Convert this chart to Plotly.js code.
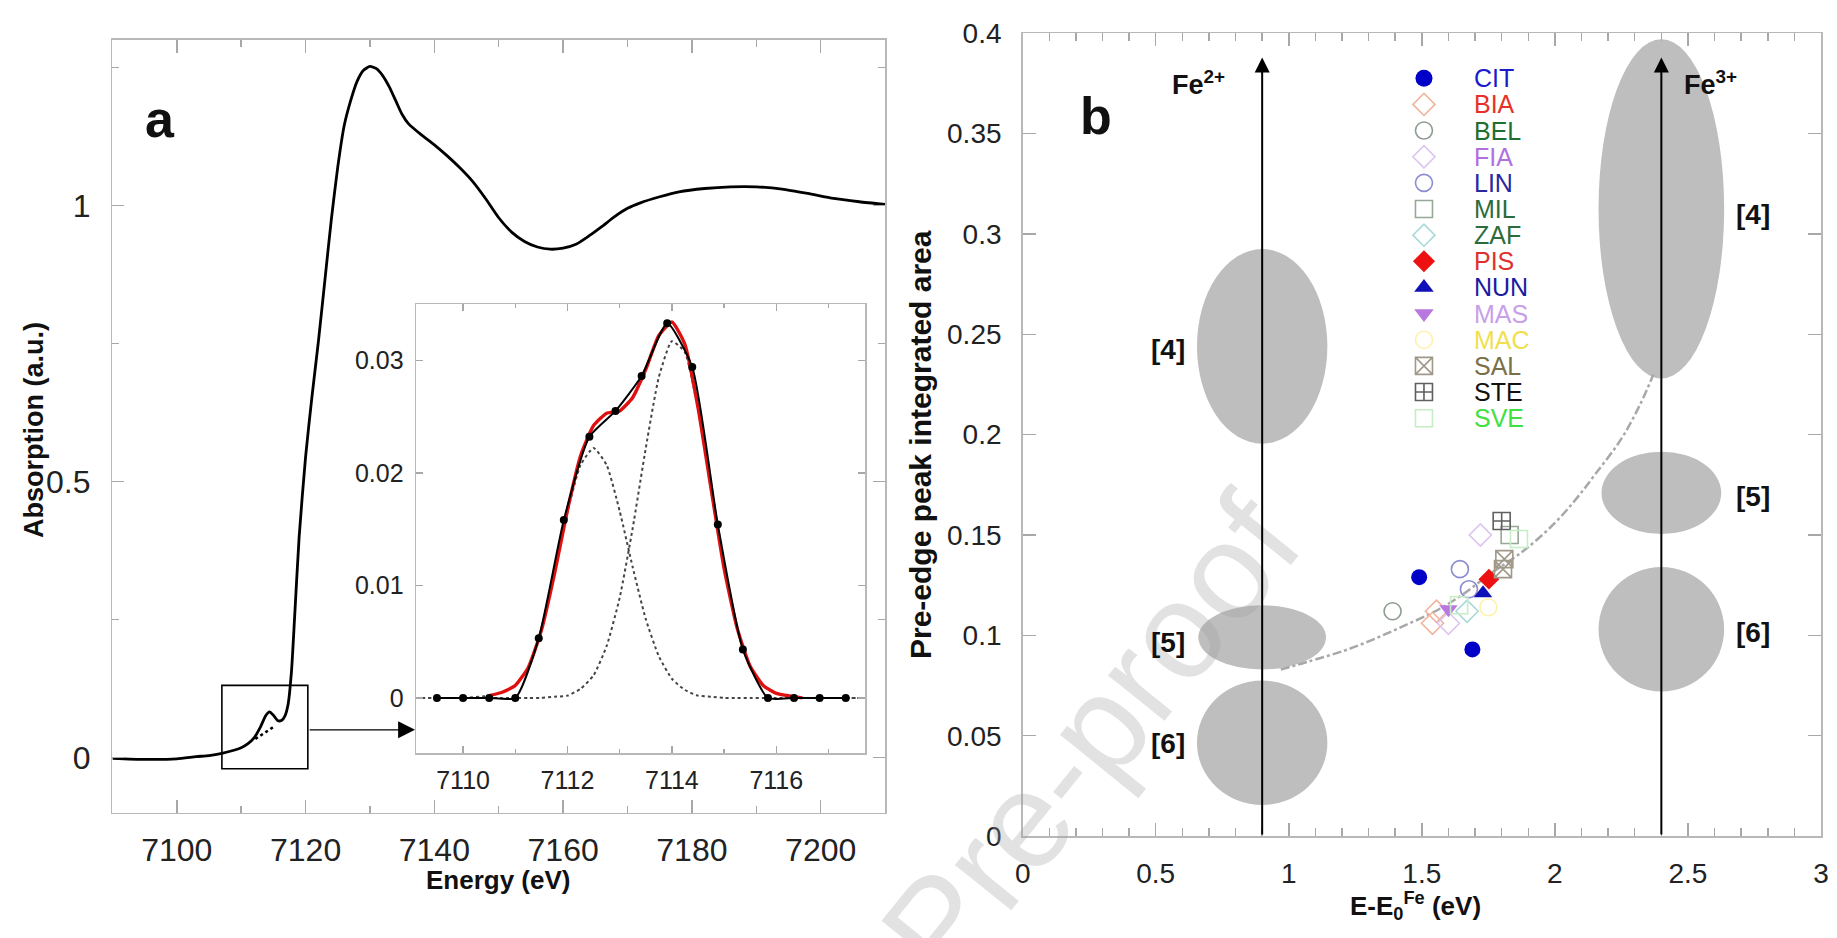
<!DOCTYPE html>
<html>
<head>
<meta charset="utf-8">
<script src="https://cdn.plot.ly/plotly-3.0.1.min.js"></script>
<style>html,body{margin:0;padding:0;background:#fff;}#chart{width:1837px;height:938px;}</style>
</head>
<body>
<div id="chart"></div>
<script>
// ---------- Panel a : XANES spectrum ----------
const energyA = [7090, 7095, 7100, 7103, 7105, 7107, 7109, 7110, 7111, 7112, 7113, 7113.8, 7114.4, 7115, 7115.7, 7116.3, 7116.8, 7117.3, 7117.8, 7118.3, 7119, 7120, 7121, 7122, 7123, 7124, 7125, 7126, 7127, 7128, 7129, 7130, 7131, 7132, 7133, 7134, 7135, 7136, 7138, 7140, 7142, 7144, 7146, 7148, 7150, 7152, 7154, 7156, 7158, 7160, 7162, 7164, 7166, 7168, 7170, 7172, 7175, 7178, 7182, 7186, 7190, 7194, 7198, 7202, 7206, 7210];
const absorbA = [-0.001, -0.003, -0.002, 0.002, 0.004, 0.008, 0.014, 0.018, 0.025, 0.036, 0.056, 0.076, 0.083, 0.077, 0.067, 0.068, 0.076, 0.098, 0.155, 0.255, 0.40, 0.545, 0.655, 0.755, 0.865, 0.975, 1.07, 1.145, 1.19, 1.225, 1.245, 1.252, 1.248, 1.235, 1.215, 1.19, 1.165, 1.148, 1.128, 1.11, 1.09, 1.068, 1.043, 1.012, 0.978, 0.952, 0.935, 0.925, 0.921, 0.923, 0.93, 0.945, 0.962, 0.98, 0.995, 1.005, 1.016, 1.025, 1.031, 1.034, 1.034, 1.03, 1.022, 1.013, 1.007, 1.002];
// pre-edge background (dotted) under the pre-edge
const baseE = [7112.2, 7113.7, 7115.3];
const baseA = [0.034, 0.046, 0.058];
// zoom box and pointer
const boxE = [7107.0, 7120.35];
const boxA = [-0.02, 0.131];
const pointerE = [7120.4, 7137.0];
const pointerA = 0.0506;

// ---------- Inset : pre-edge fit ----------
const insetE = [7109.5, 7110.0, 7110.5, 7111.0, 7111.45, 7111.93, 7112.42, 7112.92, 7113.42, 7113.91, 7114.39, 7114.88, 7115.36, 7115.84, 7116.34, 7116.83, 7117.33];
const insetA = [0, 0, 0, 0, 0.0053, 0.0158, 0.0232, 0.0255, 0.0286, 0.0333, 0.0294, 0.0154, 0.0043, 0, 0, 0, 0];
const compE = [7109.1, 7110.0, 7110.5, 7110.75, 7111.0, 7111.25, 7111.5, 7111.75, 7112.0, 7112.25, 7112.5, 7112.75, 7113.0, 7113.25, 7113.5, 7113.75, 7114.0, 7114.25, 7114.5, 7114.75, 7115.0, 7115.25, 7115.5, 7115.75, 7116.0, 7116.5, 7117.0, 7117.7];
const comp1 = [0, 0, 0.0002, 0.0005, 0.0011, 0.0027, 0.0060, 0.0110, 0.0165, 0.0207, 0.0222, 0.0207, 0.0166, 0.0116, 0.0070, 0.0037, 0.0017, 0.0007, 0.0002, 0.0001, 0, 0, 0, 0, 0, 0, 0, 0];
const comp2 = [0, 0, 0, 0, 0, 0, 0, 0.0001, 0.0002, 0.0008, 0.0020, 0.0046, 0.0089, 0.0151, 0.0222, 0.0285, 0.0317, 0.0307, 0.0256, 0.0185, 0.0115, 0.0062, 0.0028, 0.0011, 0.0004, 0, 0, 0];
const fitE = [7110.5, 7110.75, 7111.0, 7111.25, 7111.5, 7111.75, 7112.0, 7112.25, 7112.5, 7112.75, 7113.0, 7113.25, 7113.5, 7113.75, 7114.0, 7114.25, 7114.5, 7114.75, 7115.0, 7115.25, 7115.5, 7115.75, 7116.0, 7116.5];
const fitA = [0.0002, 0.0005, 0.0011, 0.0027, 0.0060, 0.0110, 0.0167, 0.0215, 0.0242, 0.0253, 0.0255, 0.0267, 0.0292, 0.0322, 0.0334, 0.0314, 0.0258, 0.0186, 0.0115, 0.0062, 0.0028, 0.0011, 0.0004, 0];

// ---------- Panel b : pre-edge centroid vs area ----------
const samples = ['CIT','BIA','BEL','FIA','LIN','MIL','ZAF','PIS','NUN','MAS','MAC','SAL','STE','SVE'];
const sampleX = [[1.49, 1.69], [1.54, 1.555], [1.39], [1.60, 1.72], [1.643, 1.677], [1.83], [1.67], [1.752], [1.73], [1.60], [1.75], [1.805, 1.81], [1.80], [1.64, 1.865]];
const sampleY = [[0.129, 0.093], [0.106, 0.112], [0.112], [0.106, 0.150], [0.133, 0.123], [0.150], [0.112], [0.128], [0.121], [0.113], [0.114], [0.133, 0.138], [0.157], [0.115, 0.148]];
const sampleSymbol = ['circle','diamond-open','circle-open','diamond-open','circle-open','square-open','diamond-open','diamond','triangle-up','triangle-down','circle-open','square-x-open','square-cross-open','square-open'];
const sampleColor = ['#0000c8','#f0b49c','#8f9c8f','#dcc4f0','#8c8cd0','#98a898','#a8d8d8','#ee1111','#1010b8','#b878e0','#fff0a8','#a09888','#606060','#c4eec4'];
const labelColor = ['#1a1acc','#e8302a','#1e6e30','#b070e0','#2828a0','#2c6c3c','#2c6c3c','#e03030','#1a1aa0','#c8a0e8','#f0e050','#7a7048','#111111','#40e040'];
// trend line (dotted)
const trendX = [0.97, 1.05, 1.1, 1.2, 1.3, 1.42, 1.55, 1.65, 1.75, 1.85, 1.9, 2.0, 2.08, 2.15, 2.25, 2.32, 2.37];
const trendY = [0.083, 0.086, 0.088, 0.092, 0.097, 0.104, 0.112, 0.12, 0.13, 0.139, 0.144, 0.156, 0.168, 0.18, 0.198, 0.215, 0.23];
// coordination regions
const regionCx = [0.9, 0.9, 0.9, 2.4, 2.4, 2.4];
const regionCy = [0.244, 0.099, 0.0465, 0.3125, 0.171, 0.103];
const regionRx = [0.245, 0.24, 0.245, 0.236, 0.225, 0.236];
const regionRy = [0.0485, 0.016, 0.031, 0.0845, 0.0205, 0.031];
const regionLabel = ['[4]','[5]','[6]','[4]','[5]','[6]'];
const regionLabelX = [0.547, 0.547, 0.547, 2.746, 2.746, 2.746];
const regionLabelY = [0.2425, 0.0964, 0.046, 0.3096, 0.169, 0.1015];
const ironX = [0.9, 2.4];
const ironLabel = ['Fe<sup>2+</sup>', 'Fe<sup>3+</sup>'];
const ironLabelX = [0.66, 2.585];

// ---------- layout constants ----------
const FONT = 'Liberation Sans, Arial, Helvetica, sans-serif';
const NARROW = 'Liberation Sans Narrow, Arial Narrow, Liberation Sans, sans-serif';
const legX = 1.508, legTextX = 1.687, legTop = 0.3776, legStep = 0.01303;
const arrowTop = 0.388;

const traces = [];
// panel a
traces.push({x: energyA, y: absorbA, xaxis: 'x', yaxis: 'y', mode: 'lines',
  line: {color: '#000', width: 2.8, shape: 'spline', smoothing: 0.6}, hoverinfo: 'skip'});
traces.push({x: baseE, y: baseA, xaxis: 'x', yaxis: 'y', mode: 'lines',
  line: {color: '#000', width: 2.5, dash: 'dot'}, hoverinfo: 'skip'});
// inset
traces.push({x: compE, y: comp1, xaxis: 'x3', yaxis: 'y3', mode: 'lines',
  line: {color: '#444', width: 2, dash: 'dot', shape: 'spline', smoothing: 0.5}});
traces.push({x: compE, y: comp2, xaxis: 'x3', yaxis: 'y3', mode: 'lines',
  line: {color: '#444', width: 2, dash: 'dot', shape: 'spline', smoothing: 0.5}});
traces.push({x: fitE, y: fitA, xaxis: 'x3', yaxis: 'y3', mode: 'lines',
  line: {color: '#e01010', width: 3.4, shape: 'spline', smoothing: 0.5}});
traces.push({x: insetE, y: insetA, xaxis: 'x3', yaxis: 'y3', mode: 'lines+markers',
  line: {color: '#000', width: 2, shape: 'spline', smoothing: 0.55},
  marker: {color: '#000', size: 8}});
// panel b trend
traces.push({x: trendX, y: trendY, xaxis: 'x2', yaxis: 'y2', mode: 'lines',
  line: {color: '#a8a8a8', width: 2.5, dash: 'dashdot', shape: 'spline'}});
// panel b samples
samples.forEach((s, i) => {
  const open = sampleSymbol[i].indexOf('open') >= 0;
  traces.push({x: sampleX[i], y: sampleY[i], xaxis: 'x2', yaxis: 'y2', mode: 'markers', name: s,
    marker: {symbol: sampleSymbol[i], size: open ? 17 : 16, color: sampleColor[i],
      line: {color: sampleColor[i], width: open ? 1.6 : 0}}});
});
// legend swatches (positions computed from layout constants)
traces.push({x: samples.map(() => legX), y: samples.map((s, i) => legTop - i * legStep),
  xaxis: 'x2', yaxis: 'y2', mode: 'markers',
  marker: {symbol: sampleSymbol, size: 17, color: sampleColor,
    line: {color: sampleColor, width: sampleSymbol.map(t => t.indexOf('open') >= 0 ? 1.6 : 0)}}});

const axCommon = {showline: true, mirror: 'ticks', linecolor: '#b8b8b8', linewidth: 1.5,
  ticks: 'inside', tickcolor: '#a8a8a8', tickwidth: 1.5, showgrid: false, zeroline: false,
  tickfont: {family: FONT, color: '#222'}};

const shapes = [];
regionCx.forEach((cx, i) => {
  shapes.push({type: 'circle', xref: 'x2', yref: 'y2', layer: 'below',
    x0: cx - regionRx[i], x1: cx + regionRx[i], y0: regionCy[i] - regionRy[i], y1: regionCy[i] + regionRy[i],
    fillcolor: '#bebebe', line: {width: 0}});
});
shapes.push({type: 'rect', xref: 'x', yref: 'y', x0: boxE[0], x1: boxE[1], y0: boxA[0], y1: boxA[1],
  line: {color: '#000', width: 1.6}});

const C = {xanchor: 'center', yanchor: 'middle', showarrow: false};
const annotations = [];
// journal watermark (drawn first so the rest sits on top)
annotations.push(Object.assign({}, C, {xref: 'paper', yref: 'paper', x: 0.5106, y: 0.0128, text: 'Journal Pre-proof',
  textangle: -51, font: {family: FONT, size: 137, color: 'rgba(160,160,160,0.3)'}}));
annotations.push(Object.assign({}, C, {xref: 'paper', yref: 'paper', x: 0.2711, y: 0.0618, text: '<b>Energy (eV)</b>',
  font: {family: FONT, size: 26, color: '#111'}}));
annotations.push(Object.assign({}, C, {xref: 'paper', yref: 'paper', x: 0.0185, y: 0.5416, text: '<b>Absorption (a.u.)</b>',
  textangle: -90, font: {family: FONT, size: 27, color: '#111'}}));
annotations.push(Object.assign({}, C, {xref: 'paper', yref: 'paper', x: 0.5014, y: 0.5256, text: '<b>Pre-edge peak integrated area</b>',
  textangle: -90, font: {family: FONT, size: 30, color: '#111'}}));
annotations.push(Object.assign({}, C, {xref: 'paper', yref: 'paper', x: 0.7708, y: 0.034, text: '<b>E-E<sub>0</sub><sup>Fe</sup> (eV)</b>',
  font: {family: FONT, size: 26, color: '#111'}}));
annotations.push(Object.assign({}, C, {xref: 'x', yref: 'y', x: 7097.4, y: 1.156, text: '<b>a</b>',
  font: {family: NARROW, size: 52, color: '#111'}}));
annotations.push(Object.assign({}, C, {xref: 'x2', yref: 'y2', x: 0.275, y: 0.359, text: '<b>b</b>',
  font: {family: NARROW, size: 52, color: '#111'}}));
// pointer arrow
annotations.push({xref: 'x', yref: 'y', axref: 'x', ayref: 'y', x: pointerE[1], y: pointerA,
  ax: pointerE[0], ay: pointerA, text: '', showarrow: true, arrowhead: 2, arrowsize: 2.6,
  arrowwidth: 1.3, arrowcolor: '#000'});
// Fe arrows and labels
ironX.forEach((fx, i) => {
  annotations.push({xref: 'x2', yref: 'y2', axref: 'x2', ayref: 'y2', x: fx, y: arrowTop, ax: fx, ay: 0,
    text: '', showarrow: true, arrowhead: 2, arrowsize: 1.5, arrowwidth: 2, arrowcolor: '#000'});
  annotations.push(Object.assign({}, C, {xref: 'x2', yref: 'y2', x: ironLabelX[i], y: 0.375, text: '<b>' + ironLabel[i] + '</b>',
    font: {family: FONT, size: 27, color: '#111'}}));
});
regionLabel.forEach((t, i) => {
  annotations.push(Object.assign({}, C, {xref: 'x2', yref: 'y2', x: regionLabelX[i], y: regionLabelY[i], text: '<b>' + t + '</b>',
    font: {family: FONT, size: 28, color: '#111'}}));
});
samples.forEach((s, i) => {
  annotations.push({xref: 'x2', yref: 'y2', x: legTextX, y: legTop - i * legStep, text: s,
    xanchor: 'left', yanchor: 'middle', showarrow: false, font: {family: FONT, size: 25, color: labelColor[i]}});
});

const layout = {
  width: 1837, height: 938, margin: {l: 0, r: 0, t: 0, b: 0},
  paper_bgcolor: '#fff', plot_bgcolor: '#fff', showlegend: false,
  font: {family: FONT, color: '#222'},
  xaxis: Object.assign({}, axCommon, {domain: [0.0612, 0.4818], range: [7090, 7210], anchor: 'y',
    tick0: 7100, dtick: 20, ticklen: 13, minor: {dtick: 10, ticklen: 7, ticks: 'inside', tickcolor: '#a8a8a8', tickwidth: 1.5},
    tickfont: {family: FONT, size: 32, color: '#222'}, ticklabelstandoff: 8}),
  yaxis: Object.assign({}, axCommon, {domain: [0.1333, 0.9574], range: [-0.1, 1.3], anchor: 'x',
    tick0: 0, dtick: 0.5, ticklen: 12, minor: {dtick: 0.25, ticklen: 7, ticks: 'inside', tickcolor: '#a8a8a8', tickwidth: 1.5},
    tickfont: {family: FONT, size: 32, color: '#222'}, ticklabelstandoff: 14}),
  xaxis3: Object.assign({}, axCommon, {domain: [0.2265, 0.4709], range: [7109.1, 7117.7], anchor: 'y3',
    tick0: 7110, dtick: 2, ticklen: 7, minor: {dtick: 1, ticklen: 4, ticks: 'inside', tickcolor: '#a8a8a8'},
    tickfont: {family: FONT, size: 25, color: '#222'}, ticklabelstandoff: 4}),
  yaxis3: Object.assign({}, axCommon, {domain: [0.1972, 0.6759], range: [-0.0049, 0.035], anchor: 'x3',
    tick0: 0, dtick: 0.01, ticklen: 7, tickfont: {family: FONT, size: 25, color: '#222'}, ticklabelstandoff: 6}),
  xaxis2: Object.assign({}, axCommon, {domain: [0.5567, 0.9913], range: [0, 3], anchor: 'y2',
    tick0: 0, dtick: 0.5, ticklen: 13, minor: {dtick: 0.1, ticklen: 8, ticks: 'inside', tickcolor: '#a8a8a8', tickwidth: 1.5},
    tickfont: {family: FONT, size: 28, color: '#222'}, ticklabelstandoff: 12}),
  yaxis2: Object.assign({}, axCommon, {domain: [0.1087, 0.9645], range: [0, 0.4], anchor: 'x2',
    tick0: 0, dtick: 0.05, ticklen: 13, tickfont: {family: FONT, size: 28, color: '#222'}, ticklabelstandoff: 14}),
  shapes: shapes,
  annotations: annotations
};

Plotly.newPlot('chart', traces, layout, {displayModeBar: false, staticPlot: true});
</script>
</body>
</html>
